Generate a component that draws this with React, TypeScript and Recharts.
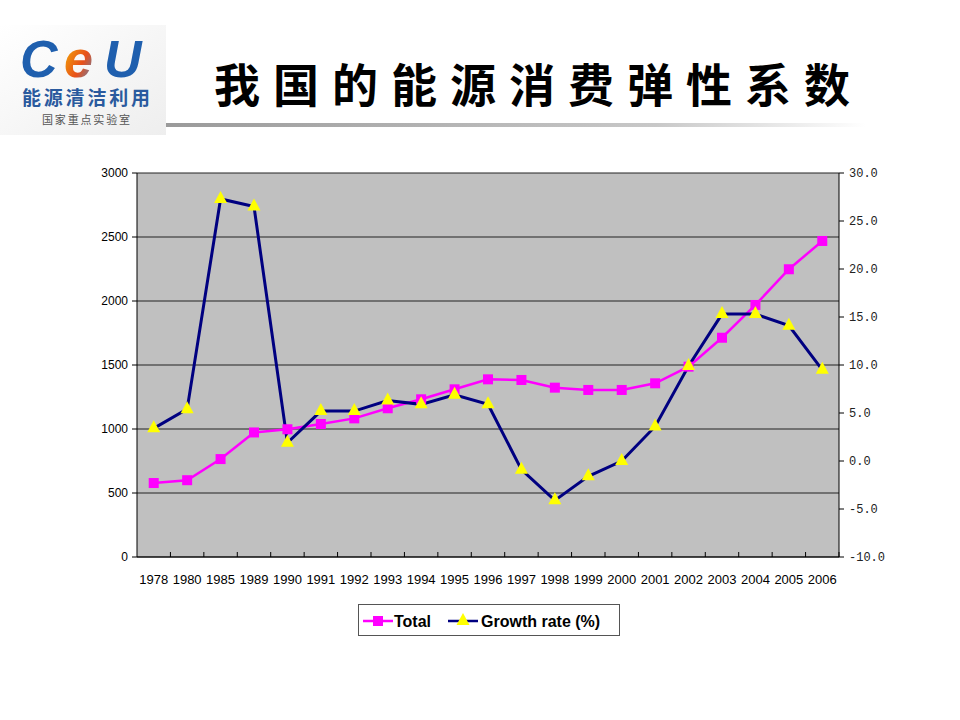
import { ComposedChart, Line, XAxis, YAxis, CartesianGrid } from "recharts"

const years = ["1978", "1980", "1985", "1989", "1990", "1991", "1992", "1993", "1994", "1995", "1996", "1997", "1998", "1999", "2000", "2001", "2002", "2003", "2004", "2005", "2006"]
const totalValues = [578, 600, 765, 973, 998, 1039, 1083, 1162, 1232, 1310, 1388, 1383, 1323, 1305, 1305, 1357, 1487, 1713, 1969, 2248, 2469]
const growthValues = [3.4, 5.4, 27.3, 26.5, 1.9, 5.2, 5.2, 6.3, 5.9, 6.9, 5.9, -0.9, -4.1, -1.6, 0.0, 3.6, 9.9, 15.3, 15.3, 14.1, 9.5]
const leftTicks = [0, 500, 1000, 1500, 2000, 2500, 3000]
const rightTicks = [-10, -5, 0, 5, 10, 15, 20, 25, 30]
const titleText = "我国的能源消费弹性系数"

const rows = years.map((year, i) => ({ year, total: totalValues[i], growth: growthValues[i] }))

const CHART_W = 960
const CHART_H = 600
const margin = { top: 173, right: 61, left: 77, bottom: 13 }
const AXIS_W = 60
const plotW = CHART_W - margin.left - margin.right - AXIS_W * 2
const band = plotW / years.length

const SquareDot = (props: any) => {
    const { cx, cy, index } = props
    if (cx == null || cy == null) return <g key={`s${index}`} />
    return <rect key={`s${index}`} x={cx - 5} y={cy - 5} width={10} height={10} fill="#ff00ff" />
}

const TriangleDot = (props: any) => {
    const { cx, cy, index } = props
    if (cx == null || cy == null) return <g key={`t${index}`} />
    return <polygon key={`t${index}`} points={`${cx},${cy - 8} ${cx - 6.5},${cy + 4} ${cx + 6.5},${cy + 4}`} fill="#ffff00" />
}

const YearTick = (props: any) => {
    const { x, y, payload } = props
    const axisY = y - 7
    return (
        <g>
            <line x1={x + band / 2} x2={x + band / 2} y1={axisY} y2={axisY - 5} stroke="#000" />
            <text x={x} y={axisY + 27} textAnchor="middle" fontSize={13} fill="#000" fontFamily="'Liberation Sans', Arial, sans-serif">
                {payload.value}
            </text>
        </g>
    )
}

function Logo() {
    return (
        <svg width={166} height={110} style={{ position: "absolute", left: 0, top: 25 }}>
            <defs>
                <linearGradient id="bg" x1="0" y1="0" x2="1" y2="1">
                    <stop offset="0" stopColor="#ffffff" />
                    <stop offset="1" stopColor="#eeeeee" />
                </linearGradient>
                <linearGradient id="eg" x1="0" y1="0" x2="1" y2="1">
                    <stop offset="0" stopColor="#f5c400" />
                    <stop offset="0.6" stopColor="#e8501a" />
                    <stop offset="1" stopColor="#3d8fd8" />
                </linearGradient>
            </defs>
            <rect x={0} y={0} width={166} height={110} fill="url(#bg)" />
            <text x={20} y={52} fontSize={52} fontWeight="bold" fontStyle="italic" fill="#1f5fae" fontFamily="'Liberation Sans', Arial, sans-serif">C</text>
            <text x={64} y={52} fontSize={52} fontWeight="bold" fontStyle="italic" fill="url(#eg)" fontFamily="'Liberation Sans', Arial, sans-serif">e</text>
            <text x={104} y={52} fontSize={52} fontWeight="bold" fontStyle="italic" fill="#1f5fae" fontFamily="'Liberation Sans', Arial, sans-serif">U</text>
            <text x={22} y={80} fontSize={19} fontWeight="bold" fill="#2a5a9e" fontFamily="'Noto Sans CJK SC', sans-serif" textLength={128}>能源清洁利用</text>
            <text x={42} y={99} fontSize={11} fill="#555" fontFamily="'Noto Sans CJK SC', sans-serif" textLength={88}>国家重点实验室</text>
        </svg>
    )
}

function LegendBox() {
    return (
        <div style={{ position: "absolute", left: 358, top: 604, width: 260, height: 30, border: "1px solid #555", background: "#fff" }}>
            <svg width={260} height={30}>
                <line x1={4} x2={34} y1={16} y2={16} stroke="#ff00ff" strokeWidth={2.5} />
                <rect x={14} y={11} width={10} height={10} fill="#ff00ff" />
                <text x={35} y={22} fontSize={16} fontWeight="bold" fill="#000" fontFamily="'Liberation Sans', Arial, sans-serif">Total</text>
                <line x1={89} x2={119} y1={16} y2={16} stroke="#000080" strokeWidth={2.5} />
                <polygon points="104,8 97.5,20 110.5,20" fill="#ffff00" />
                <text x={122} y={22} fontSize={16} fontWeight="bold" fill="#000" fontFamily="'Liberation Sans', Arial, sans-serif">Growth rate (%)</text>
            </svg>
        </div>
    )
}

export default function App() {
    return (
        <div style={{ position: "absolute", left: 0, top: 0, width: 960, height: 720, background: "#fff", overflow: "hidden" }}>
            <Logo />
            <div style={{ position: "absolute", left: 214, top: 56, fontSize: 46, lineHeight: "52px", letterSpacing: 13, fontWeight: 700, fontFamily: "'Noto Sans CJK SC', sans-serif", color: "#000", whiteSpace: "nowrap" }}>
                {titleText}
            </div>
            <div style={{ position: "absolute", left: 166, top: 123, width: 700, height: 4, background: "linear-gradient(to right, #9a9a9a, #c8c8c8 70%, #ffffff)" }} />
            <div style={{ position: "absolute", left: 0, top: 0 }}>
                <ComposedChart width={CHART_W} height={CHART_H} data={rows} margin={margin}>
                    <CartesianGrid vertical={false} fill="#c0c0c0" stroke="#222" strokeWidth={1} yAxisId="left" />
                    <XAxis dataKey="year" scale="band" interval={0} height={30} tickLine={false} tickSize={5} tickMargin={2} axisLine={{ stroke: "#000" }} tick={<YearTick />} />
                    <YAxis yAxisId="left" width={AXIS_W} domain={[0, 3000]} ticks={leftTicks} interval={0} tickSize={5} tickMargin={4} axisLine={{ stroke: "#000" }} tickLine={{ stroke: "#000" }} tick={{ fontSize: 12, fill: "#000", fontFamily: "'Liberation Sans', Arial, sans-serif" }} />
                    <YAxis yAxisId="right" orientation="right" width={AXIS_W} domain={[-10, 30]} ticks={rightTicks} interval={0} tickSize={5} tickMargin={5} axisLine={{ stroke: "#000" }} tickLine={{ stroke: "#000" }} tickFormatter={(v) => v.toFixed(1)} tick={{ fontSize: 12, fill: "#222", fontFamily: "'Liberation Mono', monospace" }} />
                    <Line yAxisId="left" dataKey="total" stroke="#ff00ff" strokeWidth={2.5} dot={SquareDot} activeDot={false} isAnimationActive={false} />
                    <Line yAxisId="right" dataKey="growth" stroke="#000080" strokeWidth={3} dot={TriangleDot} activeDot={false} isAnimationActive={false} />
                </ComposedChart>
            </div>
            <LegendBox />
        </div>
    )
}
